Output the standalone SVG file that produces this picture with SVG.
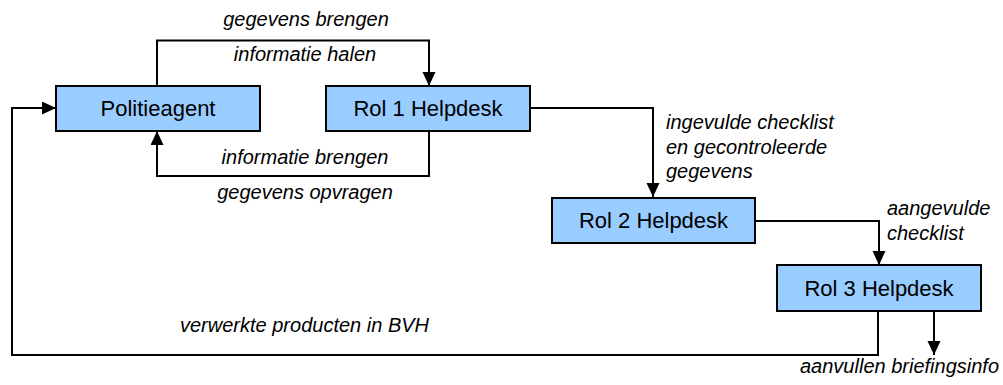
<svg xmlns="http://www.w3.org/2000/svg" width="1003" height="385" viewBox="0 0 1003 385">
<style>
.box{fill:#99CCFF;stroke:#000;stroke-width:2}
.nt{font-family:"Liberation Sans",Arial,sans-serif;font-size:22px;fill:#000;text-anchor:middle}
.lb{font-family:"Liberation Sans",Arial,sans-serif;font-size:20px;font-style:italic;fill:#000}
.c{fill:none;stroke:#000;stroke-width:2;marker-end:url(#ah)}
</style>
<defs>
<marker id="ah" markerUnits="userSpaceOnUse" markerWidth="14" markerHeight="14" refX="14" refY="6.5" orient="auto">
<path d="M0,0 L14,6.5 L0,13 Z" fill="#000"/>
</marker>
</defs>
<rect width="1003" height="385" fill="#fff"/>
<g id="connectors">
<path class="c" d="M157,86 V40.5 H429 V86"/>
<path class="c" d="M429,131 V176 H157 V131"/>
<path class="c" d="M530,108 H653 V197"/>
<path class="c" d="M755,221 H879 V265"/>
<path class="c" d="M878,311 V355 H12 V108 H56"/>
<path class="c" d="M934,311 V355"/>
</g>
<g id="labels">
<text class="lb" x="306" y="25.5" text-anchor="middle">gegevens brengen</text>
<text class="lb" x="305" y="61" text-anchor="middle">informatie halen</text>
<text class="lb" x="305" y="164" text-anchor="middle">informatie brengen</text>
<text class="lb" x="305" y="199" text-anchor="middle">gegevens opvragen</text>
<text class="lb" x="666" y="129">ingevulde checklist</text>
<text class="lb" x="666" y="154">en gecontroleerde</text>
<text class="lb" x="666" y="178">gegevens</text>
<text class="lb" x="887" y="215">aangevulde</text>
<text class="lb" x="887" y="239.5">checklist</text>
<text class="lb" x="180" y="332">verwerkte producten in BVH</text>
<text class="lb" x="800" y="373">aanvullen briefingsinfo</text>
</g>
<g id="politieagent">
<rect class="box" x="56" y="86" width="204" height="45"/>
<text class="nt" x="158" y="116">Politieagent</text>
</g>
<g id="rol1">
<rect class="box" x="326" y="86" width="204" height="45"/>
<text class="nt" x="428" y="116">Rol 1 Helpdesk</text>
</g>
<g id="rol2">
<rect class="box" x="552" y="198" width="203" height="45"/>
<text class="nt" x="653.5" y="228">Rol 2 Helpdesk</text>
</g>
<g id="rol3">
<rect class="box" x="777" y="265" width="204" height="46"/>
<text class="nt" x="879" y="296">Rol 3 Helpdesk</text>
</g>
</svg>
